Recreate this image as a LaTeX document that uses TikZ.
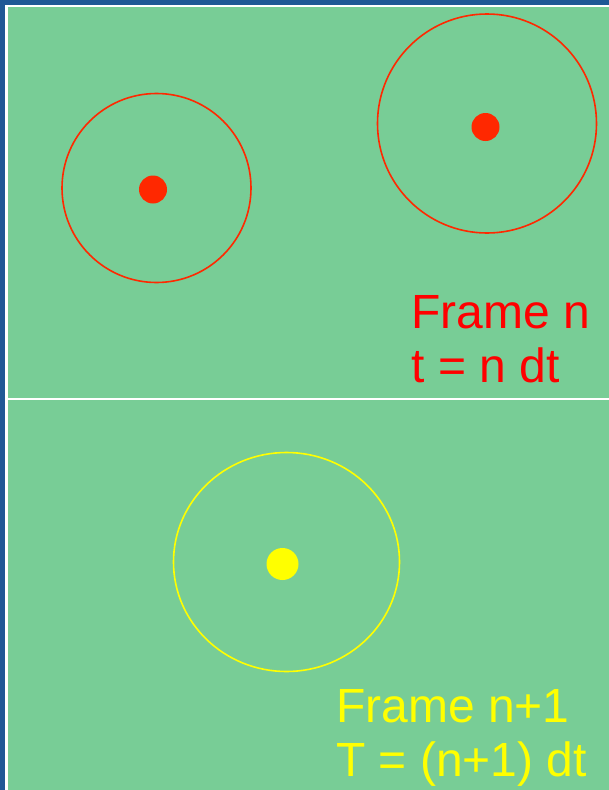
\documentclass[tikz,border=0pt]{standalone}
\usepackage{fontspec}
\setmainfont{Liberation Sans}
\usetikzlibrary{positioning, shapes.geometric}

\definecolor{slideblue}{RGB}{31,88,150}
\definecolor{panelgreen}{RGB}{120,205,150}
\definecolor{ballred}{RGB}{255,40,0}
\definecolor{ballyellow}{RGB}{255,255,0}

\tikzset{
  ring/.style={draw, circle, line width=1.6pt, inner sep=0pt, fill=none},
  ball/.style={circle, inner sep=0pt, draw=none},
  framelabel/.style={anchor=base west, inner sep=0pt, font=\fontsize{48}{54}\selectfont}
}

\begin{document}
\begin{tikzpicture}[x=1pt, y=-1pt]
                % Background and panels
                \useasboundingbox (0,0) rectangle (609,790);
                \fill[slideblue] (0,0) rectangle (609,790);
                \fill[white] (5,5) rectangle (609,790);
                \fill[panelgreen] (7.5,7) rectangle (609,790);
                \draw[white, line width=2pt] (7.5,399) -- (609,399);

                % Frame n
                \node[ring, draw=ballred, minimum size=189pt] (ringa) at (156.5,188) {};
                \node[ball, fill=ballred, minimum size=28pt] (balla) at (153,189.5) {};
                \node[ring, draw=ballred, minimum size=219pt] (ringb) at (487,123.5) {};
                \node[ball, fill=ballred, minimum size=28pt] (ballb) at (485.5,127) {};
                \node[framelabel, text=red] (lblframe) at (411,328.5) {Frame n};
                \node[framelabel, text=red] (lbltime) at (411.5,382.5) {t = n dt};

                % Frame n+1
                \node[draw=ballyellow, ellipse, line width=1.6pt, inner sep=0pt, minimum width=226pt, minimum height=219pt] (ringc) at (286.5,562) {};
                \node[ball, fill=ballyellow, minimum size=32pt] (ballc) at (282.5,564) {};
                \node[framelabel, text=ballyellow] (lblnext) at (336,722.5) {Frame n+1};
                \node[framelabel, text=ballyellow] (lblnexttime) at (336,776.5) {T = (n+1) dt};

\end{tikzpicture}
\end{document}
